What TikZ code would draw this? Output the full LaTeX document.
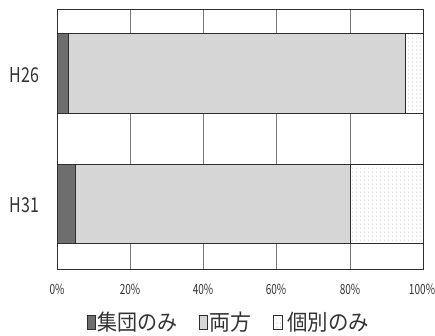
\documentclass[tikz,border=0pt]{standalone}
\usepackage{fontspec}
\setmainfont{Noto Sans CJK JP}
\usetikzlibrary{patterns}
\pgfdeclarepatternformonly{sparsedots}{\pgfpointorigin}{\pgfpoint{4pt}{3.5pt}}{\pgfpoint{4pt}{3.5pt}}{\pgfpathcircle{\pgfpoint{1pt}{1pt}}{0.6pt}\pgfusepath{fill}}
\definecolor{darkseg}{HTML}{6E6E6E}
\definecolor{midseg}{HTML}{D6D6D6}
\definecolor{lineclr}{HTML}{2E2E2E}
\definecolor{gridclr}{HTML}{777777}
\definecolor{textclr}{HTML}{333333}
\tikzset{
  seg/.style={draw=lineclr, line width=0.9pt},
  frame/.style={draw=lineclr, line width=0.9pt},
  gridline/.style={draw=gridclr, line width=0.5pt},
  catlabel/.style={font=\fontsize{20.5}{20.5}\selectfont, inner sep=0pt, text=textclr},
  ticklabel/.style={font=\fontsize{14}{14}\selectfont, inner sep=0pt, text=textclr},
  legtext/.style={font=\fontsize{22}{22}\selectfont, inner sep=0pt, anchor=west, text=textclr},
  legbox/.style={draw=lineclr, line width=0.6pt},
  dotfill/.style={pattern=sparsedots, pattern color=gray!65}
}
\newcommand{\narrowtxt}[2]{\scalebox{#1}[1]{#2}}
\begin{document}
\begin{tikzpicture}[x=1pt,y=-1pt]
\useasboundingbox[fill=white] (0,0) rectangle (435,335);
% grid
\foreach \xx in {130,203,276,350} {\draw[gridline] (\xx,9) -- (\xx,269);}
% H26 bar
\filldraw[seg, fill=darkseg] (57,33) rectangle (68,113);
\filldraw[seg, fill=midseg] (68,33) rectangle (405,113);
\draw[seg, fill=white] (405,33) rectangle (423,113);
\fill[dotfill] (406,34) rectangle (422,112);
% H31 bar
\filldraw[seg, fill=darkseg] (57,164) rectangle (75,243);
\filldraw[seg, fill=midseg] (75,164) rectangle (350,243);
\draw[seg, fill=white] (350,164) rectangle (423,243);
\fill[dotfill] (351,165) rectangle (422,242);
% frame
\draw[frame] (57,9) rectangle (423,269);
% category labels
\node[catlabel] (h26) at (24.5,75.5) {\narrowtxt{0.78}{H26}};
\node[catlabel] (h31) at (24.5,205.5) {\narrowtxt{0.78}{H31}};
% tick labels
\node[ticklabel] (t0) at (57,289) {\narrowtxt{0.72}{0\%}};
\node[ticklabel] (t20) at (130,289) {\narrowtxt{0.72}{20\%}};
\node[ticklabel] (t40) at (203,289) {\narrowtxt{0.72}{40\%}};
\node[ticklabel] (t60) at (276,289) {\narrowtxt{0.72}{60\%}};
\node[ticklabel] (t80) at (350,289) {\narrowtxt{0.72}{80\%}};
\node[ticklabel] (t100) at (422,289) {\narrowtxt{0.72}{100\%}};
% legend
\filldraw[legbox, fill=darkseg] (87,315) rectangle (95,329);
\node[legtext] (l1) at (97,322) {\narrowtxt{0.91}{集団のみ}};
\filldraw[legbox, fill=midseg] (199,315) rectangle (207,329);
\node[legtext] (l2) at (209,322) {\narrowtxt{0.95}{両方}};
\draw[legbox, fill=white] (273,315) rectangle (282,329);
\fill[dotfill] (274,316) rectangle (281,328);
\node[legtext] (l3) at (287,322) {\narrowtxt{0.93}{個別のみ}};
\end{tikzpicture}
\end{document}
